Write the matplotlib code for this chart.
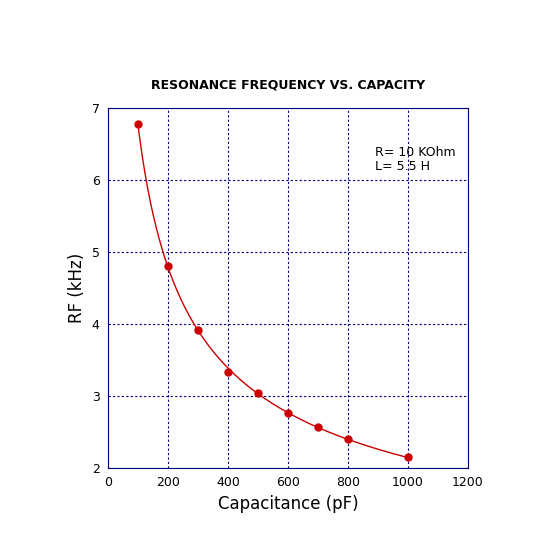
import numpy as np
import matplotlib
matplotlib.use("Agg")
import matplotlib.pyplot as plt

cap = [100, 200, 300, 400, 500, 600, 700, 800, 1000]
rf = [6.78, 4.80, 3.92, 3.33, 3.04, 2.77, 2.57, 2.40, 2.15]
xticks = [0, 200, 400, 600, 800, 1000, 1200]
yticks = [2, 3, 4, 5, 6, 7]

fig = plt.figure(figsize=(5.4, 5.4), dpi=100)
ax = fig.add_axes([0.2, 0.1333, 0.6667, 0.6667])
navy = "#000080"

# smooth curve via log-log fit of the data
p = np.polyfit(np.log(cap), np.log(rf), 1)
xs = np.linspace(min(cap), max(cap), 300)
ax.plot(xs, np.exp(np.polyval(p, np.log(xs))), color="#cc0000", lw=1, zorder=3)
ax.plot(cap, rf, "o", color="#cc0000", ms=5, zorder=4)

ax.set_xlim(0, 1200)
ax.set_ylim(2, 7)
ax.set_xticks(xticks)
ax.set_yticks(yticks)
ax.grid(True, color=navy, linestyle=(0, (2, 2)), lw=0.8)
for s in ax.spines.values():
    s.set_color(navy)
ax.tick_params(colors="black", labelsize=9, direction="in", length=0, pad=6)
ax.set_xlabel("Capacitance (pF)", fontsize=12)
ax.set_ylabel("RF (kHz)", fontsize=12)
ax.set_title("RESONANCE FREQUENCY VS. CAPACITY", fontsize=9, fontweight="bold", pad=14)
ax.text(890, 6.28, "R= 10 KOhm\nL= 5.5 H", fontsize=9, va="center", linespacing=1.1)

fig.savefig("out.png", dpi=100)
